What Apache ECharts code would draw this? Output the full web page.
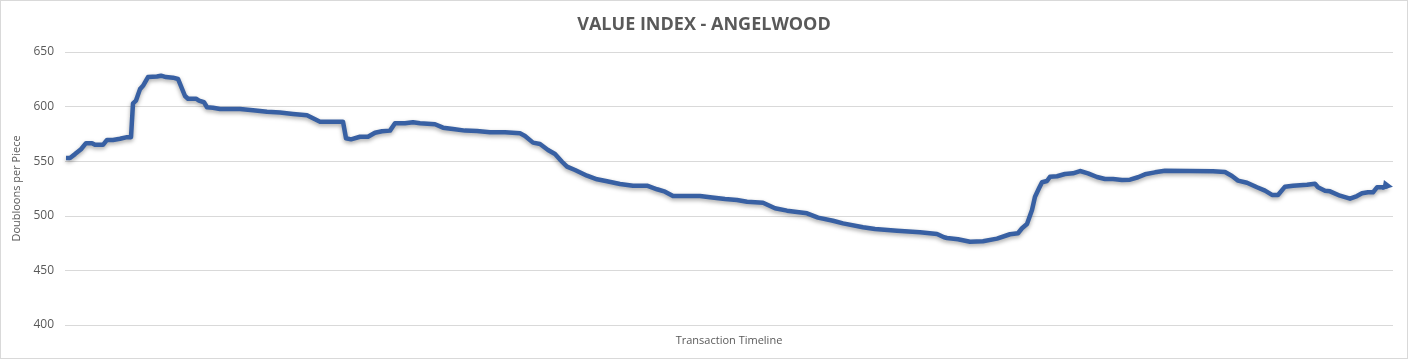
<!DOCTYPE html>
<html>
<head>
<meta charset="utf-8">
<script src="https://cdn.jsdelivr.net/npm/echarts@6/dist/echarts.min.js"></script>
<style>
html,body{margin:0;padding:0;background:#fff;}
#c{width:1408px;height:359px;box-sizing:border-box;border:1px solid #d9d9d9;}
</style>
</head>
<body>
<div id="c"></div>
<script>
const chartTitle = 'VALUE INDEX - ANGELWOOD';
const yAxisName = 'Doubloons per Piece';
const xAxisName = 'Transaction Timeline';
const yTicks = [400, 450, 500, 550, 600, 650];
// transaction position along the timeline
const timeline = [
  1,5,10,16,21,27,30,38,42,48,55,62,66,68,71,73,75,78,83,92,96,101,108,113,120,123,131,134,139,142,148,155,175,188,202,215,
  228,242,248,255,278,281,286,295,303,310,317,325,330,340,348,355,370,378,388,400,412,425,440,
  455,460,468,475,483,490,497,502,510,522,532,542,555,568,582,592,600,608,635,645,660,
  672,682,698,710,722,742,753,768,778,798,810,832,855,872,879,
  882,893,905,918,932,945,953,957,962,967,970,974,977,982,985,992,1000,1008,1015,1023,1032,1040,1048,1057,1065,1073,1080,1090,1100,
  1148,1160,1167,1173,1182,1192,1200,1207,1213,1220,1228,1242,1250,1253,1260,1265,1275,1285,1292,1297,1303,1308,1312,1318,1323
];
const values = [
  553,553,556.5,561,566.5,566.5,565,565,569.5,569.5,570.5,572,572,603,605.5,605.5,616,619,627,627.5,628.3,627,626.5,625.3,609.7,607.2,607.2,605.4,604,599.4,599,597.8,597.8,596.6,595.3,594.5,
  593.2,592,589.3,586.2,586.2,571,570,572.4,572.4,576.1,577.4,578,584.7,584.7,585.6,584.7,583.8,580.7,579.5,578,577.7,576.5,576.5,
  575.5,573.1,567,565.8,560.3,556.6,549.5,545,541.9,536.7,533.4,531.6,529.1,527.6,527.6,524.3,522.1,518.1,518.1,516.9,515.4,
  514.5,512.9,512,506.9,504.7,502.3,498.3,495.5,493.1,489.5,487.9,486.4,484.9,483.3,480.3,
  479.7,478.5,476.3,476.7,479.1,483.1,484,488.6,492.5,505.3,517.5,525.2,530.7,531.9,535.8,536.2,538.3,538.9,541,538.9,535.5,533.7,533.7,532.8,533.1,535.3,538,539.8,541.3,
  540.7,540.1,536.4,532.2,530.3,526.1,523,519.1,519.1,526.7,527.6,528.5,529.4,526.1,523,522.4,518.4,515.7,518.1,520.6,521.5,521.5,526.1,526.1,527.4
];

const lineColor = '#3860a3';
const seriesData = timeline.map((x, i) => i === timeline.length - 1
  ? {value: [x, values[i]], symbol: 'triangle', symbolSize: [10, 10], symbolRotate: -100, itemStyle: {color: lineColor}}
  : {value: [x, values[i]]});

const chart = echarts.init(document.getElementById('c'));
chart.setOption({
  animation: false,
  title: {
    text: chartTitle, left: 'center', top: 10,
    textStyle: {fontFamily: 'Open Sans', fontSize: 18, fontWeight: 'bold', color: '#595959'}
  },
  grid: {left: 64, right: 14, top: 51, bottom: 33},
  xAxis: {
    type: 'value', min: 0, max: 1328,
    name: xAxisName, nameLocation: 'middle', nameGap: 10,
    nameTextStyle: {fontFamily: 'Open Sans', fontSize: 11, color: '#595959'},
    axisLine: {show: false}, axisTick: {show: false}, axisLabel: {show: false}, splitLine: {show: false}
  },
  yAxis: {
    type: 'value', min: yTicks[0], max: yTicks[yTicks.length - 1], interval: 50,
    name: yAxisName, nameLocation: 'middle', nameGap: 29,
    nameTextStyle: {fontFamily: 'Open Sans', fontSize: 11, color: '#595959'},
    axisLine: {show: false}, axisTick: {show: false},
    axisLabel: {fontFamily: 'Open Sans', fontSize: 12, color: '#595959', margin: 11},
    splitLine: {lineStyle: {color: '#d9d9d9', width: 1}}
  },
  series: [{
    type: 'line', data: seriesData, showSymbol: true, symbol: 'none',
    lineStyle: {color: lineColor, width: 4.5, shadowColor: 'rgba(0,0,0,0.35)', shadowBlur: 4, shadowOffsetY: 2, join: 'round'},
    itemStyle: {color: lineColor}
  }]
});
</script>
</body>
</html>
